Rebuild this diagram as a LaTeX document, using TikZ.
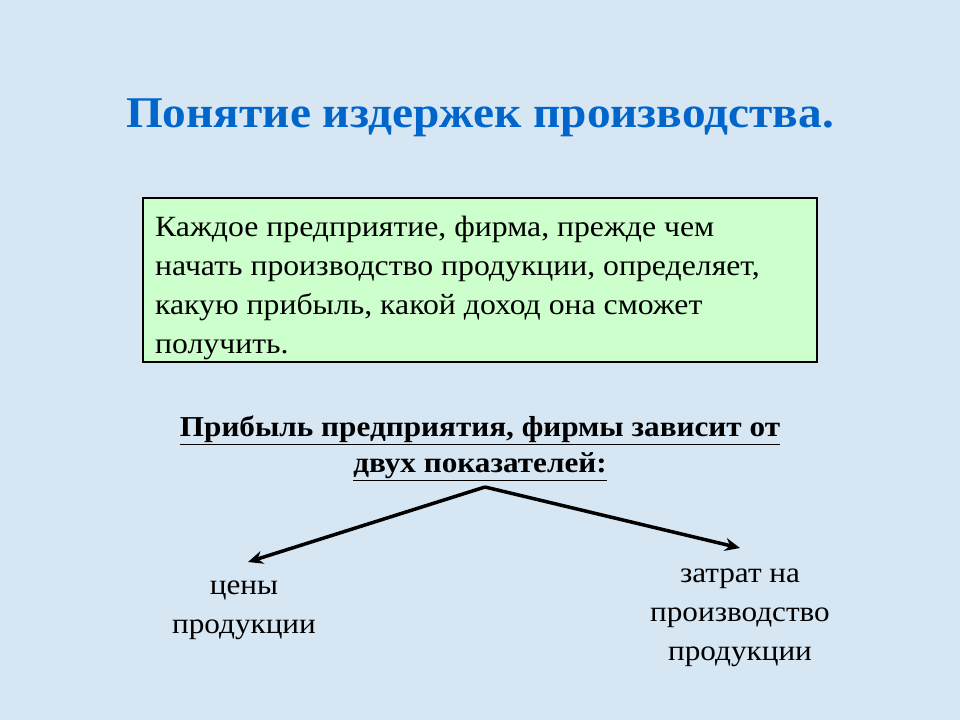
\documentclass[tikz,border=0pt]{standalone}
\usepackage{fontspec}
\setmainfont{Liberation Serif}[FakeStretch=1.08]
\usetikzlibrary{arrows.meta}
\definecolor{bg}{RGB}{214,230,242}
\definecolor{ttl}{RGB}{0,102,204}
\definecolor{boxg}{RGB}{204,255,204}
\tikzset{x=1bp,y=-1bp,
  txt/.style={font=\fontsize{29}{39}\selectfont,inner sep=0pt},
  arr/.style={line width=3.5bp,-{Stealth[length=15bp,width=13bp]}}}
\begin{document}
\begin{tikzpicture}
\fill[bg] (0,0) rectangle (960,720);
\useasboundingbox (0,0) rectangle (960,720);
\node[font=\fontsize{44}{50}\selectfont\bfseries,text=ttl] (title) at (480,118) {Понятие издержек производства.};
\draw[line width=2bp,fill=boxg] (143,198) rectangle (817,362);
\node[txt,font=\fontsize{29.5}{39}\selectfont,anchor=north west,align=left] (box) at (155,216) {Каждое предприятие, фирма, прежде чем\\начать производство продукции, определяет,\\какую прибыль, какой доход она сможет\\получить.};
\node[txt,font=\fontsize{29}{36}\selectfont\bfseries,align=center] (head) at (480,448) {\underline{Прибыль предприятия, фирмы зависит от}\\\underline{двух показателей:}};
\coordinate (top) at (485,487);
\node[txt,align=center] (left) at (244,610) {цены\\продукции};
\node[txt,align=center] (right) at (740,618) {затрат на\\производство\\продукции};
\coordinate (le) at (248,562);
\coordinate (re) at (740,548);
\draw[arr] (top) -- (le);
\draw[arr] (top) -- (re);
\end{tikzpicture}
\end{document}
